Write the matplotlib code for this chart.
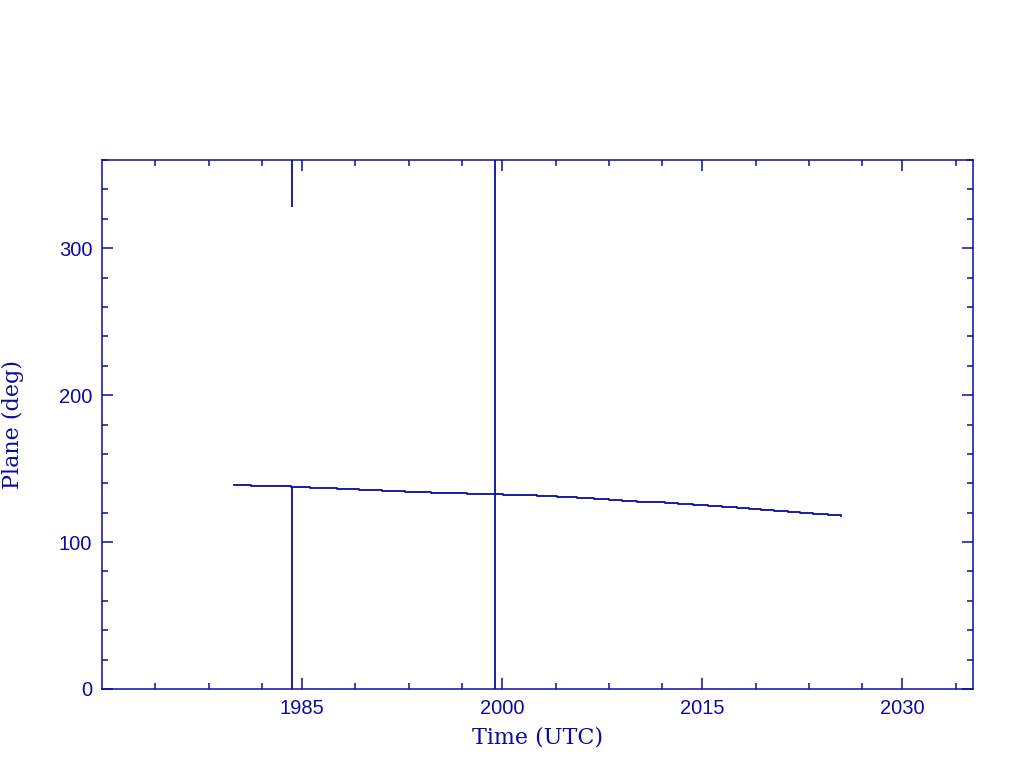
import matplotlib
matplotlib.use('Agg')
import matplotlib.pyplot as plt
import matplotlib.ticker as ticker
import numpy as np

# plane angle vs time (years)
years = [1979.9, 1981.2, 1984.2, 1985.6, 1987.6, 1989.3, 1991.0, 1992.7,
         1994.7, 1997.4, 2000.1, 2002.6, 2004.1, 2005.6, 2006.9, 2008.0,
         2009.0, 2010.1, 2012.2, 2013.2, 2014.3, 2015.4, 2016.5, 2017.6,
         2018.5, 2019.4, 2020.4, 2021.4, 2022.3, 2023.3, 2024.4, 2025.4]
plane = [138.6, 137.9, 137.3, 136.6, 135.9, 135.2, 134.5, 133.9,
         133.2, 132.5, 131.8, 131.1, 130.4, 129.8, 129.1, 128.4,
         127.8, 127.0, 126.4, 125.7, 125.0, 124.4, 123.7, 123.0,
         122.3, 121.6, 120.9, 120.3, 119.6, 118.9, 118.3, 117.7]

# bad samples that show up as vertical lines (wrap-around)
glitch_x = [1984.25, 1984.25, 1999.45]
glitch_lo = [0.0, 328.0, 0.0]
glitch_hi = [137.3, 360.0, 360.0]

xlim = (1970.0, 2035.3)
ylim = (0, 360)
major_years = [1985, 2000, 2015, 2030]
minor_years = [1974, 1978, 1982, 1989, 1993, 1997, 2004, 2008, 2012,
               2019, 2023, 2027, 2034]

col = '#0c0c9c'

fig = plt.figure(figsize=(10.24, 7.68), dpi=100)
ax = fig.add_axes([102/1024, 79/768, 871/1024, 529/768])

ax.plot(years, plane, color=col, linewidth=1.3, drawstyle='steps-post')
ax.vlines(glitch_x, glitch_lo, glitch_hi, color=col, linewidth=1.3)

ax.set_xlim(*xlim)
ax.set_ylim(*ylim)

ax.xaxis.set_major_locator(ticker.FixedLocator(major_years))
ax.xaxis.set_minor_locator(ticker.FixedLocator(minor_years))
ax.yaxis.set_major_locator(ticker.MultipleLocator(100))
ax.yaxis.set_minor_locator(ticker.MultipleLocator(20))
ax.xaxis.set_major_formatter(ticker.FuncFormatter(lambda x, pos: '%d' % x))

ax.tick_params(which='both', direction='in', top=True, right=True, colors=col,
               width=1.1)
ax.tick_params(which='major', length=8, labelsize=14.5, pad=7)
ax.tick_params(which='minor', length=4)
for lab in ax.get_xticklabels() + ax.get_yticklabels():
    lab.set_family('Liberation Sans')
    lab.set_color(col)
for s in ax.spines.values():
    s.set_color(col)
    s.set_linewidth(1.1)

ax.set_xlabel('Time (UTC)', family='DejaVu Serif', fontsize=16, color=col,
              labelpad=6)
ax.set_ylabel('Plane (deg)', family='DejaVu Serif', fontsize=16, color=col)
ax.yaxis.set_label_coords(-0.089, 0.5)

plt.savefig('out.png', dpi=100)
